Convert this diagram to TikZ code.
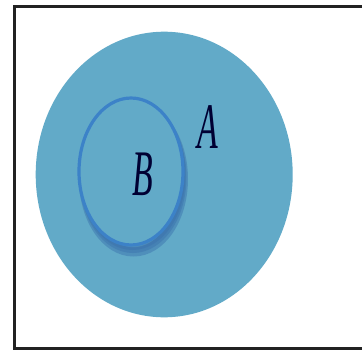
\documentclass[tikz,border=0pt]{standalone}
\usepackage{fontspec}
\setmainfont{Liberation Serif}
\definecolor{setA}{RGB}{98,170,200}
\definecolor{ringB}{RGB}{60,130,200}
\definecolor{shadowB}{RGB}{58,112,172}
\definecolor{frame}{RGB}{34,34,34}
\tikzset{
  framestyle/.style={draw=frame, line width=2.6pt},
  lettercap/.style={anchor=base, inner sep=0pt, text=black!80!blue,
    font=\fontsize{65}{65}\selectfont\itshape},
  shadowring/.style={draw=shadowB, line width=#1, opacity=0.45},
}
\begin{document}
\begin{tikzpicture}[x=1pt, y=-1pt]
  \useasboundingbox (0,0) rectangle (362,351);
  \fill[white] (0,0) rectangle (362,351);
  % frame (open on the right)
  \draw[framestyle] (362,6.5) -- (14.5,6.5) -- (14.5,348.5) -- (362,348.5);
  % set A
  \fill[setA] (164.2,174.5) ellipse [x radius=128.5, y radius=142.8];
  % soft shadow of B
  \draw[shadowring=9pt] (133.5,179) ellipse [x radius=50, y radius=73];
  \draw[shadowring=6pt] (133,177) ellipse [x radius=50.5, y radius=73];
  \draw[shadowring=4pt] (132.5,175) ellipse [x radius=51, y radius=73];
  \fill[setA] (131,171.5) ellipse [x radius=52, y radius=73.5];
  % ring of B
  \draw[ringB, line width=3.2pt] (131,171.5) ellipse [x radius=52, y radius=73.5];
  % labels
  \node[lettercap] (labB) at (143,195) {\scalebox{0.52}[1]{B}};
  \node[lettercap] (labA) at (208,148) {\scalebox{0.52}[1]{A}};
\end{tikzpicture}
\end{document}
